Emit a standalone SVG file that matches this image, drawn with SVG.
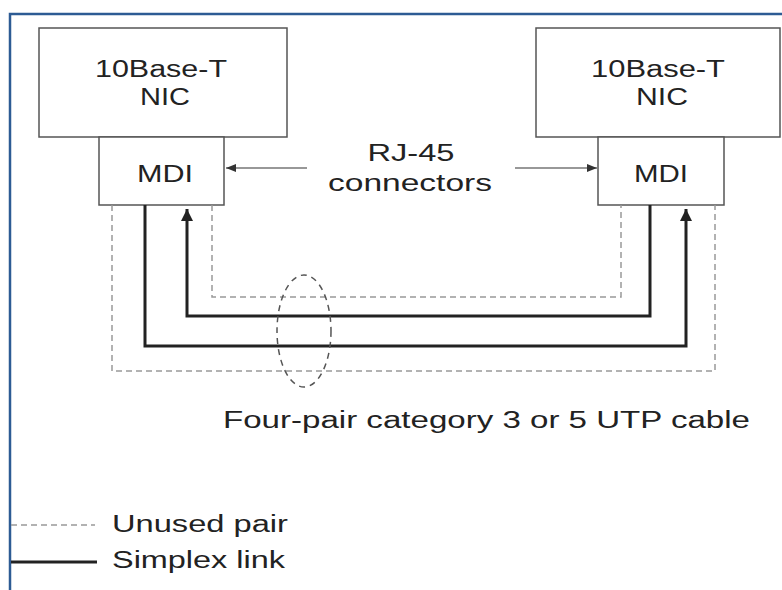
<svg xmlns="http://www.w3.org/2000/svg" width="782" height="590" viewBox="0 0 782 590">
<style>
.box{fill:#fff;stroke:#555;stroke-width:1.5}
.t{font-family:"Liberation Sans",Arial,sans-serif;font-size:23px;fill:#222}
.m{text-anchor:middle}
.solid{fill:none;stroke:#222;stroke-width:3}
.dash{fill:none;stroke:#999;stroke-width:1.5;stroke-dasharray:6 4}
.thin{fill:none;stroke:#333;stroke-width:1.2}
</style>
<defs>
<marker id="ah" markerUnits="userSpaceOnUse" markerWidth="14" markerHeight="14" refX="12" refY="6" orient="auto">
<path d="M0,0 L12,6 L0,12 z" fill="#222"/>
</marker>
<marker id="sh" markerUnits="userSpaceOnUse" markerWidth="12" markerHeight="10" refX="10" refY="4" orient="auto">
<path d="M0,0 L10,4 L0,8 z" fill="#333"/>
</marker>
</defs>
<rect width="782" height="590" fill="#fff"/>
<path d="M10 590 V14 H782" fill="none" stroke="#2d5b94" stroke-width="2.5"/>
<g id="nic-left">
<rect class="box" x="39" y="28" width="248" height="109"/>
<text class="t m" x="161" y="77" textLength="132" lengthAdjust="spacingAndGlyphs">10Base-T</text>
<text class="t m" x="165" y="105" textLength="50" lengthAdjust="spacingAndGlyphs">NIC</text>
</g>
<g id="mdi-left">
<rect class="box" x="99" y="137" width="125" height="68"/>
<text class="t m" x="165" y="182" textLength="56" lengthAdjust="spacingAndGlyphs">MDI</text>
</g>
<g id="nic-right">
<rect class="box" x="536" y="28" width="244" height="109"/>
<text class="t m" x="658" y="77" textLength="134" lengthAdjust="spacingAndGlyphs">10Base-T</text>
<text class="t m" x="662" y="105" textLength="52" lengthAdjust="spacingAndGlyphs">NIC</text>
</g>
<g id="mdi-right">
<rect class="box" x="598" y="137" width="126" height="68"/>
<text class="t m" x="661" y="182" textLength="54" lengthAdjust="spacingAndGlyphs">MDI</text>
</g>
<g id="rj45-label">
<text class="t m" x="411" y="161" textLength="87" lengthAdjust="spacingAndGlyphs">RJ-45</text>
<text class="t m" x="410" y="191" textLength="164" lengthAdjust="spacingAndGlyphs">connectors</text>
</g>
<g id="connectors">
<path class="dash" d="M112 205 V371 H715 V205"/>
<path class="dash" d="M212 205 V297 H621 V205"/>
<path class="solid" d="M145 205 V346 H686 V209" marker-end="url(#ah)"/>
<path class="solid" d="M650 205 V316 H187 V209" marker-end="url(#ah)"/>
<path class="thin" d="M307 168 H226" marker-end="url(#sh)"/>
<path class="thin" d="M515 168 H597" marker-end="url(#sh)"/>
<ellipse cx="304" cy="331" rx="27" ry="56" fill="none" stroke="#555" stroke-width="1.5" stroke-dasharray="6 5"/>
</g>
<g id="caption">
<text class="t" x="223" y="428" textLength="527" lengthAdjust="spacingAndGlyphs">Four-pair category 3 or 5 UTP cable</text>
</g>
<g id="legend">
<line class="dash" x1="11" y1="525" x2="95" y2="525"/>
<text class="t" x="112" y="532" textLength="176" lengthAdjust="spacingAndGlyphs">Unused pair</text>
<line x1="11" y1="562" x2="97" y2="562" stroke="#222" stroke-width="3"/>
<text class="t" x="112" y="568" textLength="173" lengthAdjust="spacingAndGlyphs">Simplex link</text>
</g>
</svg>
